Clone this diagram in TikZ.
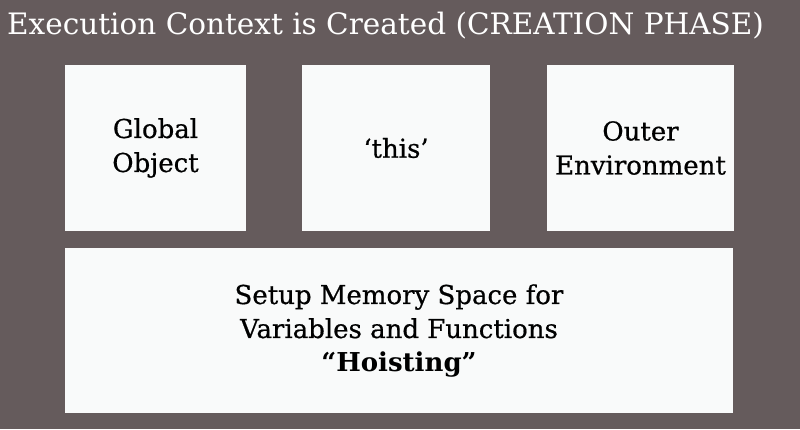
\documentclass[tikz,border=0pt]{standalone}
\usepackage{fontspec}
\setmainfont{DejaVu Serif}
\newfontfamily\lblfont[FakeBold=0.6]{DejaVu Serif}
\definecolor{bg}{HTML}{655B5C}
\definecolor{boxw}{HTML}{F9FAFA}
\begin{document}
\begin{tikzpicture}[x=1pt,y=-1pt,
  panel/.style={fill=boxw,draw=none},
  lbl/.style={align=center,text=black,font=\lblfont\fontsize{26}{34}\selectfont}]
\useasboundingbox (0,0) rectangle (800,429);
\fill[bg] (0,0) rectangle (800,429);
\node[anchor=base west,inner sep=0pt,text=white,font=\fontsize{29.5}{34}\selectfont] (title) at (7,34) {Execution Context is Created (CREATION PHASE)};
\fill[panel] (65,65) rectangle (246,231);
\fill[panel] (302,65) rectangle (490,231);
\fill[panel] (547,65) rectangle (734,231);
\fill[panel] (65,248) rectangle (733,413);
\node[lbl] (glob) at (155.5,148) {Global\\Object};
\node[lbl] (this) at (396,148) {‘this’};
\node[lbl] (outer) at (640.5,148) {Outer\\Environment};
\node[lbl] (mem) at (399,331) {Setup Memory Space for\\Variables and Functions\\{\fontspec{DejaVu Serif}[FakeBold=0]\bfseries “Hoisting”}};
\end{tikzpicture}
\end{document}
